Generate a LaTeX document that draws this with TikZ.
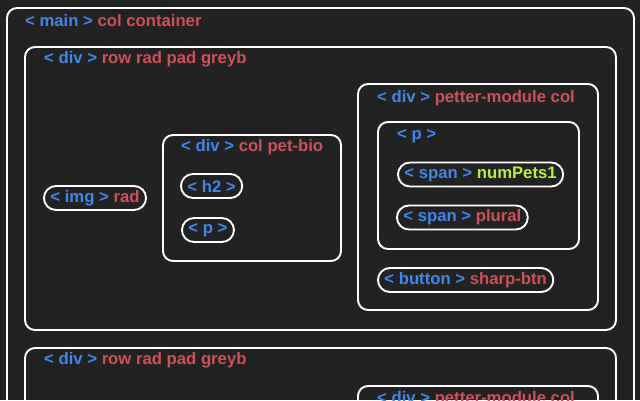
\documentclass[tikz,border=0pt]{standalone}
\usepackage{fontspec}
\setmainfont{Liberation Sans}
\definecolor{bgdark}{HTML}{222222}
\definecolor{tagblue}{HTML}{3E87EE}
\definecolor{clsred}{HTML}{D04F58}
\definecolor{clsgreen}{HTML}{B5F23E}
% tag text: < tag > class
\newcommand{\tagtxt}[3][clsred]{\textcolor{tagblue}{< #2 >} \textcolor{#1}{#3}}
\newcommand{\tagonly}[1]{\textcolor{tagblue}{< #1 >}}
\begin{document}
\begin{tikzpicture}[x=1pt,y=-1pt,
  every node/.style={font=\fontsize{16.7}{18}\selectfont\bfseries},
  box/.style={draw=white,line width=1.9pt,rounded corners=10pt},
  pill/.style={draw=white,line width=1.9pt,rounded corners=12pt,minimum height=24pt,inner xsep=6.5pt,inner ysep=0pt,anchor=west},
  lbl/.style={inner sep=0pt,anchor=base west}]
\fill[bgdark] (0,0) rectangle (640,400);
\useasboundingbox (0,0) rectangle (640,400);
\clip (0,0) rectangle (640,400);
% main container
\draw[box] (7,8) rectangle (634,430);
\node[lbl] (mainlbl) at (25,26) {\tagtxt{main}{col container}};
% first row
\draw[box] (25,47) rectangle (616,330);
\node[lbl] (rowalbl) at (44,63.5) {\tagtxt{div}{row rad pad greyb}};
\node[pill] (img) at (43,198) {\tagtxt{img}{rad}};
% pet bio column
\draw[box] (163,135) rectangle (341,261);
\node[lbl] (biolbl) at (181,151.5) {\tagtxt{div}{col pet-bio}};
\node[pill] (htwo) at (180,186) {\tagonly{h2}};
\node[pill] (biop) at (181,230) {\tagonly{p}};
% petter module
\draw[box] (358,84) rectangle (598,310);
\node[lbl] (pmalbl) at (377,102) {\tagtxt{div}{petter-module col}};
\draw[box] (378,122) rectangle (579,249);
\node[lbl] (pmplbl) at (397,139) {\tagonly{p}};
\node[pill] (numpets) at (397,174.5) {\tagtxt[clsgreen]{span}{numPets1}};
\node[pill] (plural) at (396,217.5) {\tagtxt{span}{plural}};
\node[pill] (sharpbtn) at (377,280) {\tagtxt{button}{sharp-btn}};
% second row
\draw[box] (25,348) rectangle (616,450);
\node[lbl] (rowblbl) at (44,364.5) {\tagtxt{div}{row rad pad greyb}};
\draw[box] (358,386) rectangle (598,450);
\node[lbl] (pmblbl) at (377,403) {\tagtxt{div}{petter-module col}};
\end{tikzpicture}
\end{document}
